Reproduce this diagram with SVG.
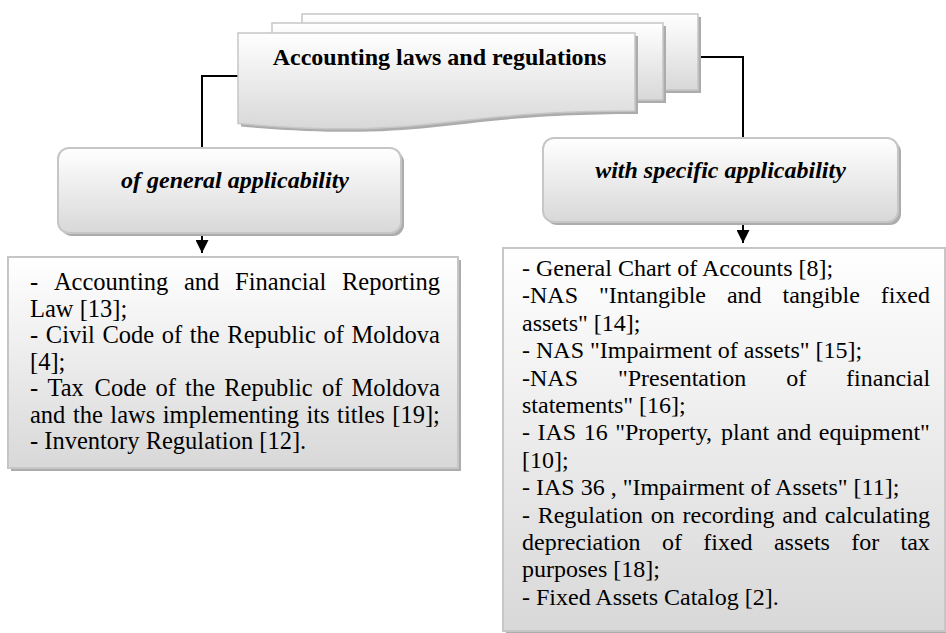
<svg xmlns="http://www.w3.org/2000/svg" width="946" height="633" viewBox="0 0 946 633">
<style>
.pg{fill:url(#g);stroke:#c6c6c6;stroke-width:1.5}
.sh{fill:#acacac}
.bx{fill:url(#g);stroke:#c6c6c6;stroke-width:2}
.t{font-family:"Liberation Serif","Times New Roman",serif;fill:#000}
.ttl{font-size:24px;font-weight:bold}
.cat{font-size:24px;font-weight:bold;font-style:italic}
.lt{font-size:24.5px}
.rt{font-size:24px}
.cn{fill:none;stroke:#000;stroke-width:2}
</style>
<defs>
<linearGradient id="g" x1="0" y1="0" x2="0" y2="1">
<stop offset="0" stop-color="#ffffff"/>
<stop offset="1" stop-color="#d8d8d8"/>
</linearGradient>
<marker id="ar" viewBox="0 0 10 10" refX="10" refY="5" markerWidth="13" markerHeight="13" markerUnits="userSpaceOnUse" orient="auto">
<path d="M0,0 L10,5 L0,10 z" fill="#000"/>
</marker>
</defs>
<rect width="946" height="633" fill="#fff"/>
<g id="connectors">
<path class="cn" d="M238,76 H202 V148"/>
<path class="cn" d="M698,57 H743 V138"/>
<path class="cn" d="M202,233 V253" marker-end="url(#ar)"/>
<path class="cn" d="M743,222 V243" marker-end="url(#ar)"/>
</g>
<g id="root">
<rect class="sh" x="305" y="17" width="396" height="76"/>
<rect class="pg" x="302" y="14" width="396" height="76"/>
<rect class="sh" x="275" y="26" width="391" height="77"/>
<rect class="pg" x="272" y="23" width="391" height="77"/>
<path class="sh" d="M241,36 H638 V114 C439.5,114 439.5,143.4 241,126.6 Z"/>
<path class="pg" d="M238,33 H635 V111 C436.5,111 436.5,140.4 238,123.6 Z"/>
<text class="t ttl" x="439.5" y="65" text-anchor="middle">Accounting laws and regulations</text>
</g>
<g id="general">
<rect class="sh" x="61" y="151" width="343" height="85" rx="11"/>
<rect class="bx" x="58" y="148" width="343" height="85" rx="11"/>
<text class="t cat" x="235" y="188" text-anchor="middle">of general applicability</text>
</g>
<g id="specific">
<rect class="sh" x="546" y="141" width="355" height="84" rx="11"/>
<rect class="bx" x="543" y="138" width="355" height="84" rx="11"/>
<text class="t cat" x="720.5" y="178" text-anchor="middle">with specific applicability</text>
</g>
<g id="general-list">
<rect class="sh" x="11" y="260" width="450" height="211"/>
<rect class="bx" x="8" y="257" width="450" height="211"/>
<text class="t lt" y="290"><tspan x="30">-</tspan><tspan x="53.9">Accounting</tspan><tspan x="184">and</tspan><tspan x="235.1">Financial</tspan><tspan x="342">Reporting</tspan></text>
<text class="t lt" x="30" y="316.5">Law [13];</text>
<text class="t lt" x="30" y="343" word-spacing="1.5">- Civil Code of the Republic of Moldova</text>
<text class="t lt" x="30" y="369.5">[4];</text>
<text class="t lt" y="396"><tspan x="30">-</tspan><tspan x="47.4">Tax</tspan><tspan x="94.6">Code</tspan><tspan x="155.5">of</tspan><tspan x="185.1">the</tspan><tspan x="224.2">Republic</tspan><tspan x="321.9">of</tspan><tspan x="351.5">Moldova</tspan></text>
<text class="t lt" x="30" y="422.5" word-spacing="1.4">and the laws implementing its titles [19];</text>
<text class="t lt" x="30" y="449">- Inventory Regulation [12].</text>
</g>
<g id="specific-list">
<rect class="sh" x="506" y="251" width="442" height="383"/>
<rect class="bx" x="503" y="248" width="442" height="383"/>
<text class="t rt" x="522" y="276">- General Chart of Accounts [8];</text>
<text class="t rt" y="303.4"><tspan x="522">-NAS</tspan><tspan x="598.9">"Intangible</tspan><tspan x="726.9">and</tspan><tspan x="782.5">tangible</tspan><tspan x="880.7">fixed</tspan></text>
<text class="t rt" x="522" y="330.8">assets" [14];</text>
<text class="t rt" x="522" y="358.2">- NAS "Impairment of assets" [15];</text>
<text class="t rt" y="385.6"><tspan x="522">-NAS</tspan><tspan x="617.9">"Presentation</tspan><tspan x="786.2">of</tspan><tspan x="846.1">financial</tspan></text>
<text class="t rt" x="522" y="413">statements" [16];</text>
<text class="t rt" y="440.4"><tspan x="522">-</tspan><tspan x="537.5">IAS</tspan><tspan x="583.7">16</tspan><tspan x="615.2">"Property,</tspan><tspan x="721.1">plant</tspan><tspan x="776.6">and</tspan><tspan x="818.8">equipment"</tspan></text>
<text class="t rt" x="522" y="467.8">[10];</text>
<text class="t rt" x="522" y="495.2">- IAS 36 , "Impairment of Assets" [11];</text>
<text class="t rt" y="522.6"><tspan x="522">-</tspan><tspan x="537.7">Regulation</tspan><tspan x="650.8">on</tspan><tspan x="682.5">recording</tspan><tspan x="782.3">and</tspan><tspan x="824.7">calculating</tspan></text>
<text class="t rt" y="550"><tspan x="522">depreciation</tspan><tspan x="662">of</tspan><tspan x="703.3">fixed</tspan><tspan x="773.9">assets</tspan><tspan x="851.2">for</tspan><tspan x="900.5">tax</tspan></text>
<text class="t rt" x="522" y="577.4">purposes [18];</text>
<text class="t rt" x="522" y="604.8">- Fixed Assets Catalog [2].</text>
</g>
</svg>
